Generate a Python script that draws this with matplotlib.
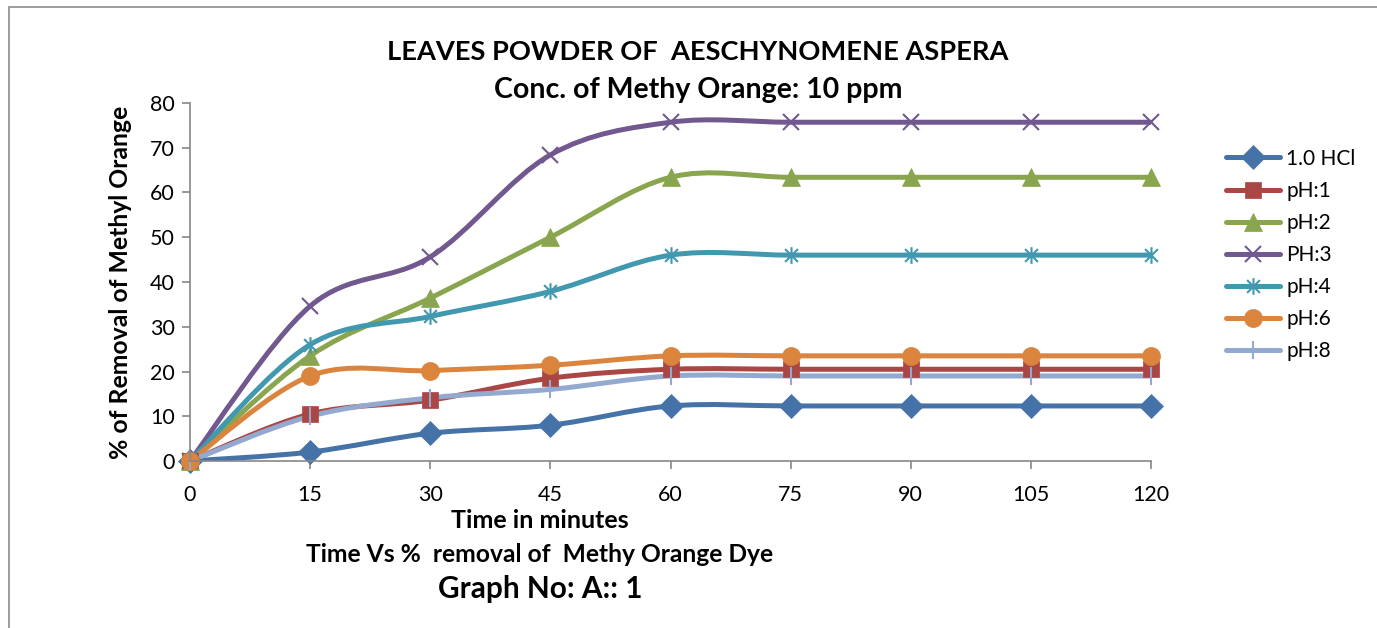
import numpy as np
import matplotlib.pyplot as plt
from matplotlib.path import Path
from matplotlib.patches import PathPatch, Rectangle
from matplotlib.lines import Line2D

# data
times = ['0', '15', '30', '45', '60', '75', '90', '105', '120']
hcl = [0, 2.0, 6.2, 8.0, 12.3, 12.3, 12.3, 12.3, 12.3]
ph1 = [0, 10.5, 13.6, 18.5, 20.5, 20.5, 20.5, 20.5, 20.5]
ph2 = [0, 23.5, 36.4, 50.0, 63.4, 63.4, 63.4, 63.4, 63.4]
ph3 = [0, 34.6, 45.6, 68.4, 75.7, 75.7, 75.7, 75.7, 75.7]
ph4 = [0, 26.0, 32.3, 37.9, 46.0, 46.0, 46.0, 46.0, 46.0]
ph6 = [0, 19.0, 20.2, 21.4, 23.5, 23.5, 23.5, 23.5, 23.5]
ph8 = [0, 10.0, 14.1, 16.0, 19.0, 19.0, 19.0, 19.0, 19.0]
names = ['1.0 HCl', 'pH:1', 'pH:2', 'PH:3', 'pH:4', 'pH:6', 'pH:8']

colors = ['#4572A7', '#AA4643', '#89A54E', '#71588F', '#4198AF', '#DB843D', '#93A9CF']

# asterisk marker (x with vertical bar)
star = Path([(-1, -1), (1, 1), (-1, 1), (1, -1), (0, -1.3), (0, 1.3)],
            [Path.MOVETO, Path.LINETO, Path.MOVETO, Path.LINETO, Path.MOVETO, Path.LINETO])
markers = [('D', 12, True), ('s', 12, True), ('^', 13, True), ('x', 12, False),
           (star, 12, False), ('o', 13, True), ('|', 13, False)]

plt.rcParams['font.family'] = ['Lato', 'DejaVu Sans']


def smooth_path(xs, ys):
    # excel-like smoothed line: cubic bezier with catmull-rom control points
    pts = np.column_stack([xs, ys]).astype(float)
    verts = [pts[0]]
    codes = [Path.MOVETO]
    n = len(pts)
    for i in range(n - 1):
        p0 = pts[max(i - 1, 0)]
        p1 = pts[i]
        p2 = pts[i + 1]
        p3 = pts[min(i + 2, n - 1)]
        c1 = p1 + (p2 - p0) / 6.0
        c2 = p2 - (p3 - p1) / 6.0
        verts += [c1, c2, p2]
        codes += [Path.CURVE4] * 3
    return Path(verts, codes)


fig = plt.figure(figsize=(13.77, 6.28), dpi=100)
fig.patches.append(Rectangle((9 / 1377, -0.1), 1.5, 1.1 - 7 / 628, transform=fig.transFigure,
                             fill=False, edgecolor='#8c8c8c', linewidth=1.2))
ax = fig.add_axes([190 / 1377, 1 - 461 / 628, 961 / 1377, 358 / 628])

x = np.arange(len(times))
series = [hcl, ph1, ph2, ph3, ph4, ph6, ph8]
handles = []
for vals, c, (m, ms, filled), name in zip(series, colors, markers, names):
    ax.add_patch(PathPatch(smooth_path(x, vals), fill=False, edgecolor=c, linewidth=3.6,
                           capstyle='round', joinstyle='round'))
    ax.plot(x, vals, linestyle='none', marker=m, markersize=ms, color=c,
            markeredgewidth=1.5 if not filled else 0.5, clip_on=False)
    handles.append(Line2D([], [], color=c, linewidth=3.6, solid_capstyle='round',
                          marker=m, markersize=ms, markeredgewidth=1.5 if not filled else 0.5))

ax.set_xlim(0, 8)
ax.set_ylim(0, 80)
ax.set_xticks(x)
ax.set_xticklabels(times)
ax.set_yticks(range(0, 81, 10))
for s in ['top', 'right']:
    ax.spines[s].set_visible(False)
for s in ['left', 'bottom']:
    ax.spines[s].set_color('#868686')
    ax.spines[s].set_linewidth(1.2)
ax.tick_params(axis='both', colors='#868686', labelcolor='black', labelsize=15.5, length=6, width=1.2)
ax.tick_params(axis='x', pad=11)
ax.tick_params(axis='y', pad=5)

ax.set_ylabel('% of Removal of Methyl Orange', fontsize=17.8, fontweight='bold', labelpad=13)

fig.text(698 / 1377, 1 - 52 / 628, 'LEAVES POWDER OF  AESCHYNOMENE ASPERA', ha='center', va='center',
         fontsize=19.6, fontweight='bold')
fig.text(698 / 1377, 1 - 90 / 628, 'Conc. of Methy Orange: 10 ppm', ha='center', va='center',
         fontsize=20.5, fontweight='bold')
fig.text(540 / 1377, 1 - 521 / 628, 'Time in minutes', ha='center', va='center',
         fontsize=18, fontweight='bold')
fig.text(540 / 1377, 1 - 555 / 628, 'Time Vs %  removal of  Methy Orange Dye', ha='center', va='center',
         fontsize=17.7, fontweight='bold')
fig.text(540 / 1377, 1 - 589 / 628, 'Graph No: A:: 1', ha='center', va='center',
         fontsize=21.4, fontweight='bold')

fig.legend(handles=handles, labels=names, loc='upper left', bbox_to_anchor=(1207 / 1377, 1 - 130 / 628),
           frameon=False, fontsize=15, handlelength=2.6, labelspacing=0.58, handletextpad=0.3)

fig.savefig('out.png', dpi=100)
